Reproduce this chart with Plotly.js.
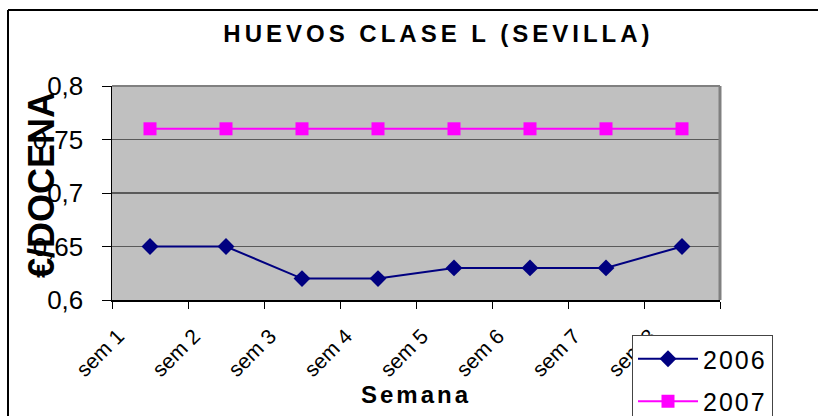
<!DOCTYPE html>
<html>
<head>
<meta charset="utf-8">
<script src="https://cdn.plot.ly/plotly-3.0.1.min.js"></script>
<style>
  html, body { margin: 0; padding: 0; background: #fff; }
  #chart { width: 818px; height: 416px; }
  .gtitle { letter-spacing: 4px; }
  .annotation[data-index="1"] text { letter-spacing: 3px; }
  .legendtext { letter-spacing: 2px; }
</style>
</head>
<body>
<div id="chart"></div>
<script>
const categories = ["sem 1", "sem 2", "sem 3", "sem 4", "sem 5", "sem 6", "sem 7", "sem 8"];
const series2006 = [0.65, 0.65, 0.62, 0.62, 0.63, 0.63, 0.63, 0.65];
const series2007 = [0.76, 0.76, 0.76, 0.76, 0.76, 0.76, 0.76, 0.76];
const yTicks = [0.6, 0.65, 0.7, 0.75, 0.8];

const FONT = "Liberation Sans, Arial, sans-serif";

const traces = [
  {
    x: categories, y: series2006, name: "2006", type: "scatter", mode: "lines+markers",
    legendgroup: "g2006",
    line: { color: "#000080", width: 2 },
    marker: { symbol: "diamond", size: 13, color: "#000080" }
  },
  {
    x: categories, y: series2007, name: "2007", type: "scatter", mode: "lines+markers",
    legendgroup: "g2007",
    line: { color: "#FF00FF", width: 2 },
    marker: { symbol: "square", size: 13, color: "#FF00FF" }
  }
];

const layout = {
  width: 818, height: 416,
  margin: { l: 112, r: 98, t: 86, b: 116, pad: 0 },
  paper_bgcolor: "#ffffff",
  plot_bgcolor: "#C0C0C0",
  separators: ",.",
  font: { family: FONT, color: "#000" },
  title: {
    text: "HUEVOS CLASE L (SEVILLA)",
    font: { family: FONT, size: 24, weight: "bold", color: "#000" },
    x: 0.536, xanchor: "center", xref: "container",
    y: 0.92, yanchor: "middle", yref: "container"
  },
  xaxis: {
    type: "category",
    range: [-0.5, 7.5],
    tickson: "boundaries",
    ticks: "outside", ticklen: 7, tickcolor: "#000", tickwidth: 1,
    tickangle: -45,
    ticklabelshift: -32,
    ticklabelstandoff: 14,
    tickfont: { family: FONT, size: 21, color: "#000" },
    showline: true, linecolor: "#000", linewidth: 1.5,
    showgrid: false, zeroline: false,
    automargin: false
  },
  yaxis: {
    range: [0.6, 0.8],
    tickvals: yTicks,
    ticks: "outside", ticklen: 9, tickcolor: "#000", tickwidth: 1,
    tickfont: { family: FONT, size: 26, color: "#000" },
    ticklabelstandoff: 13,
    showline: true, linecolor: "#000", linewidth: 1.5,
    showgrid: true, gridcolor: "#5a5a5a", gridwidth: 1.5,
    zeroline: false,
    automargin: false
  },
  showlegend: true,
  legend: {
    x: (632 - 112) / 608, xanchor: "left", xref: "paper",
    y: 1 - 335 / 416, yanchor: "top", yref: "container",
    bgcolor: "#ffffff", bordercolor: "#444", borderwidth: 1,
    font: { family: FONT, size: 25, color: "#000" },
    itemwidth: 60,
    tracegroupgap: 7
  },
  annotations: [
    {
      text: "<b>€/DOCENA</b>",
      xref: "paper", yref: "paper",
      x: (41 - 112) / 608, y: (300 - 185) / 214,
      xanchor: "center", yanchor: "middle",
      textangle: -90, showarrow: false,
      font: { family: FONT, size: 36, color: "#000" }
    },
    {
      text: "<b>Semana</b>",
      xref: "paper", yref: "paper",
      x: 0.5, y: (300 - 394) / 214,
      xanchor: "center", yanchor: "middle",
      showarrow: false,
      font: { family: FONT, size: 24, color: "#000" }
    }
  ],
  shapes: [
    { type: "line", xref: "paper", yref: "paper", x0: 0, x1: 1, y0: 1, y1: 1, line: { color: "#808080", width: 2 } },
    { type: "line", xref: "paper", yref: "paper", x0: 1, x1: 1, y0: 0, y1: 1, line: { color: "#808080", width: 3 } },
    { type: "line", xref: "paper", yref: "paper", x0: (8 - 112) / 608, x1: (8 - 112) / 608, y0: (300 - 420) / 214, y1: (300 - 10) / 214, line: { color: "#000", width: 2 } },
    { type: "line", xref: "paper", yref: "paper", x0: (8 - 112) / 608, x1: (820 - 112) / 608, y0: (300 - 10) / 214, y1: (300 - 10) / 214, line: { color: "#000", width: 2 } }
  ]
};

Plotly.newPlot("chart", traces, layout, { displayModeBar: false, staticPlot: true });
</script>
</body>
</html>
